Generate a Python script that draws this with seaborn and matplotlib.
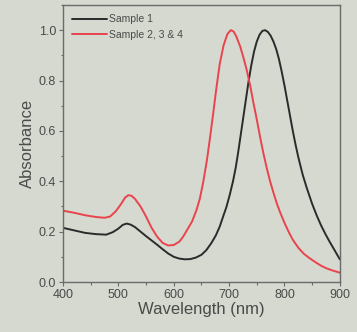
import numpy as np
import pandas as pd
import matplotlib
matplotlib.use("Agg")
import matplotlib.pyplot as plt
import seaborn as sns
from matplotlib.ticker import MultipleLocator, FormatStrFormatter

wl1 = [400, 420, 440, 460, 478, 490, 500, 508, 515, 522, 530, 540, 550, 560, 570, 580, 590,
       600, 610, 620, 630, 640, 650, 659, 668, 676, 683, 689, 695, 701, 707, 712, 716, 720,
       725, 730, 735, 740, 745, 750, 755, 760, 765, 770, 775, 780, 785, 790, 795, 800, 805,
       810, 815, 820, 825, 833, 840, 850, 858, 866, 874, 882, 890, 896, 900]
abs1 = [0.215, 0.205, 0.195, 0.19, 0.188, 0.198, 0.212, 0.227, 0.232, 0.228, 0.218, 0.20,
        0.182, 0.165, 0.148, 0.13, 0.113, 0.10, 0.093, 0.09, 0.091, 0.097, 0.108, 0.127,
        0.155, 0.185, 0.22, 0.259, 0.297, 0.345, 0.40, 0.455, 0.51, 0.57, 0.645, 0.72, 0.795,
        0.86, 0.915, 0.955, 0.982, 0.997, 1.0, 0.993, 0.978, 0.955, 0.925, 0.885, 0.835, 0.78,
        0.72, 0.66, 0.60, 0.545, 0.495, 0.425, 0.375, 0.31, 0.265, 0.225, 0.19, 0.158, 0.128,
        0.105, 0.09]

wl2 = [400, 420, 440, 460, 475, 485, 495, 505, 512, 518, 524, 530, 540, 550, 560, 570, 580,
       590, 600, 610, 617, 625, 633, 641, 647, 653, 660, 665, 671, 677, 683, 690, 697, 703,
       708, 713, 720, 726, 732, 738, 744, 750, 756, 762, 768, 774, 780, 786, 792, 800, 808,
       815, 825, 835, 845, 855, 865, 875, 885, 894, 900]
abs2 = [0.283, 0.275, 0.265, 0.258, 0.255, 0.26, 0.28, 0.31, 0.335, 0.345, 0.342, 0.33, 0.30,
        0.26, 0.215, 0.18, 0.155, 0.145, 0.147, 0.16, 0.18, 0.21, 0.24, 0.285, 0.33, 0.394,
        0.485, 0.565, 0.665, 0.77, 0.865, 0.94, 0.985, 1.0, 0.995, 0.975, 0.935, 0.89, 0.84,
        0.78, 0.71, 0.645, 0.575, 0.51, 0.452, 0.40, 0.355, 0.313, 0.277, 0.235, 0.197, 0.168,
        0.136, 0.112, 0.095, 0.08, 0.066, 0.055, 0.047, 0.041, 0.037]

labels = ["Sample 1", "Sample 2, 3 & 4"]
colors = ["#2b2b2b", "#e9434c"]
xticks = [400, 500, 600, 700, 800, 900]
yticks = [0.0, 0.2, 0.4, 0.6, 0.8, 1.0]

df = pd.concat([
    pd.DataFrame({"Wavelength": wl1, "Absorbance": abs1, "Sample": labels[0]}),
    pd.DataFrame({"Wavelength": wl2, "Absorbance": abs2, "Sample": labels[1]}),
])

sns.set_theme(style="ticks")
bg = "#d6d9d0"
txt = "#4a4a4a"
plt.rcParams.update({
    "font.family": ["Liberation Sans", "DejaVu Sans"],
    "axes.edgecolor": "#6a6a6a",
    "xtick.color": "#6a6a6a",
    "ytick.color": "#6a6a6a",
    "xtick.labelcolor": txt,
    "ytick.labelcolor": txt,
})

fig = plt.figure(figsize=(3.57, 3.32), dpi=100, facecolor=bg)
ax = fig.add_axes([0.1765, 0.1506, 0.7755, 0.8344])
ax.set_facecolor(bg)

sns.lineplot(data=df, x="Wavelength", y="Absorbance", hue="Sample",
             palette=dict(zip(labels, colors)), linewidth=1.4, ax=ax)

ax.set_xlim(400, 900)
ax.set_ylim(0, 1.1)
ax.set_xticks(xticks)
ax.set_yticks(yticks)
ax.xaxis.set_minor_locator(MultipleLocator(50))
ax.yaxis.set_minor_locator(MultipleLocator(0.1))
ax.yaxis.set_major_formatter(FormatStrFormatter("%.1f"))
ax.tick_params(which="major", direction="out", length=3, width=0.8, labelsize=9, pad=2)
ax.tick_params(which="minor", direction="out", length=1.8, width=0.8)
for s in ax.spines.values():
    s.set_linewidth(1.0)
    s.set_visible(True)

ax.set_xlabel("Wavelength (nm)", fontsize=12, color=txt, labelpad=1)
ax.set_ylabel("Absorbance", fontsize=12, color=txt, labelpad=3)

leg = ax.legend(loc="upper left", frameon=False, fontsize=7.5, handlelength=3.3,
                handletextpad=0.2, borderaxespad=0.5, labelspacing=0.55, title=None)
for t in leg.get_texts():
    t.set_color(txt)

fig.savefig("out.png", dpi=100, facecolor=bg)
